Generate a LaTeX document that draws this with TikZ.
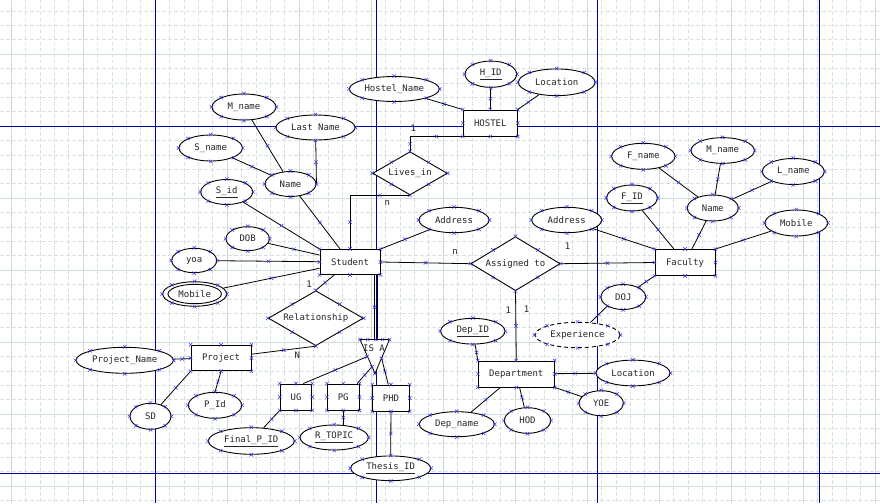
\documentclass[tikz,border=0pt]{standalone}
\usepackage{fontspec}
\setmainfont{DejaVu Sans Mono}
\usetikzlibrary{shapes.geometric,shapes.misc,calc}

\definecolor{gridminor}{RGB}{214,226,226}
\definecolor{gridmajor}{RGB}{204,218,218}
\definecolor{pagebrk}{RGB}{0,0,150}
\definecolor{cpblue}{RGB}{45,45,230}

\tikzset{
  ent/.style={draw, fill=white, rectangle, inner sep=0pt, line width=0.9pt},
  attr/.style={draw, fill=white, ellipse, inner sep=0pt, line width=0.9pt},
  relbox/.style={draw, fill=white, diamond, inner sep=0pt, line width=0.9pt},
  derived/.style={attr, dash pattern=on 4pt off 3pt},
  conn/.style={line width=0.8pt},
  cpt/.style={cross out, draw=cpblue, line width=0.45pt, minimum size=3pt, inner sep=0pt},
  txt/.style={inner sep=0pt},
  card/.style={inner sep=0pt},
  gmin/.style={gridminor, line width=0.55pt, dash pattern=on 3.5pt off 2.5pt},
  gmaj/.style={gridmajor, line width=0.7pt},
  pbrk/.style={pagebrk, line width=1pt}
}

% blue connection points on the eight compass anchors of a shape
\newcommand\cpmarks[1]{%
  \foreach \a in {north,north east,east,south east,south,south west,west,north west}
    {\node[cpt] at (#1.\a) {};}}

\begin{document}
\begin{tikzpicture}[x=1pt,y=-1pt,
  every node/.style={font=\fontsize{9}{10}\selectfont, text=black!85}]
\useasboundingbox (0,0) rectangle (880,503);
\fill[white] (0,0) rectangle (880,503);

% ---- canvas grid ----
\foreach \k in {0,...,60}{%
  \pgfmathsetmacro\xx{11+14.4*\k}%
  \pgfmathtruncatemacro\m{mod(\k,5)}%
  \ifnum\m=0 \draw[gmaj] (\xx,0) -- (\xx,503);
  \else \draw[gmin] (\xx,0) -- (\xx,503); \fi}
\foreach \k in {-3,...,31}{%
  \pgfmathsetmacro\yy{54+14.4*\k}%
  \pgfmathtruncatemacro\m{mod(\k+5,5)}%
  \ifnum\m=0 \draw[gmaj] (0,\yy) -- (880,\yy);
  \else \draw[gmin] (0,\yy) -- (880,\yy); \fi}

% ---- page breaks ----
\foreach \xx in {155,376.5,597.5,819} \draw[pbrk] (\xx,0) -- (\xx,503);
\foreach \yy in {126.5,473.3} \draw[pbrk] (0,\yy) -- (880,\yy);

% ---- entities ----
\node[ent, minimum width=54pt, minimum height=26pt] (hostel) at (490.3,123) {HOSTEL};
\node[ent, minimum width=60pt, minimum height=25pt] (student) at (350,262) {Student};
\node[ent, minimum width=60pt, minimum height=26pt] (faculty) at (685,262.5) {Faculty};
\node[ent, minimum width=76pt, minimum height=26pt] (dept) at (516.3,374) {Department};
\node[ent, minimum width=60pt, minimum height=25.7pt] (project) at (221,358) {Project};
\node[ent, minimum width=31.7pt, minimum height=26pt] (ug) at (296,397) {UG};
\node[ent, minimum width=31.7pt, minimum height=26pt] (pg) at (343.2,397) {PG};
\node[ent, minimum width=36.7pt, minimum height=26pt] (phd) at (391,398) {PHD};

% ---- relationships ----
\node[relbox, minimum width=74.6pt, minimum height=43.3pt] (lives) at (410,173.3) {};
\node[txt] (lives-t) at (lives) {Lives\_in};
\node[relbox, minimum width=89.3pt, minimum height=54pt] (assign) at (515.5,263.7) {};
\node[txt] (assign-t) at (assign) {Assigned to};
\node[relbox, minimum width=95pt, minimum height=55pt] (rel) at (315.8,318.2) {};
\node[txt] (rel-t) at (rel) {Relationship};

% ---- ISA triangle ----
\coordinate (isatl) at (360,339.5);
\coordinate (isatr) at (389.5,339.5);
\coordinate (isab) at (375,373.5);
\coordinate (isatop) at (375.75,339.5);
\coordinate (isal) at (367,356.7);
\coordinate (isam) at (372,366.7);
\coordinate (isar) at (381.6,358.3);
\draw[conn, fill=white] (isatl) -- (isatr) -- (isab) -- cycle;
\node[txt] (isa-t) at (374,348.3) {IS A};

% ---- attributes ----
\node[attr, minimum width=64pt, minimum height=26pt] (mname1) at (244,107) {M\_name};
\node[attr, minimum width=79pt, minimum height=25pt] (lastname) at (315.5,127.5) {Last Name};
\node[attr, minimum width=63.4pt, minimum height=26pt] (sname) at (210.7,148) {S\_name};
\node[attr, minimum width=51pt, minimum height=25pt] (name1) at (290.5,184) {Name};
\node[attr, minimum width=52pt, minimum height=25pt] (sid) at (226.7,192) {\underline{S\_id}};
\node[attr, minimum width=43.4pt, minimum height=24pt] (dob) at (247.7,238.7) {DOB};
\node[attr, minimum width=45pt, minimum height=24.4pt] (yoa) at (194.2,260.5) {yoa};
\node[attr, minimum width=64pt, minimum height=24.5pt] (mobile1) at (194.7,294) {};
\draw[line width=0.9pt] (mobile1.center) ellipse [x radius=26.7pt, y radius=9.7pt];
\node[txt] (mobile1-t) at (mobile1) {Mobile};
\node[attr, minimum width=90pt, minimum height=25pt] (hostelname) at (394.3,89) {Hostel\_Name};
\node[attr, minimum width=51.7pt, minimum height=26.3pt] (hid) at (490.8,74.2) {\underline{H\_ID}};
\node[attr, minimum width=76.7pt, minimum height=26.7pt] (hloc) at (556.7,82.3) {Location};
\node[attr, minimum width=70pt, minimum height=25.4pt] (addr1) at (454,220) {Address};
\node[attr, minimum width=70pt, minimum height=25.4pt] (addr2) at (566.7,220) {Address};
\node[attr, minimum width=63.4pt, minimum height=26pt] (fname) at (643.3,156.3) {F\_name};
\node[attr, minimum width=63.4pt, minimum height=25.7pt] (mname2) at (722.7,150.5) {M\_name};
\node[attr, minimum width=62pt, minimum height=26pt] (lname) at (793.3,171.5) {L\_name};
\node[attr, minimum width=51pt, minimum height=26pt] (name2) at (712.8,208) {Name};
\node[attr, minimum width=50.7pt, minimum height=26pt] (fid) at (632,198) {\underline{F\_ID}};
\node[attr, minimum width=62.7pt, minimum height=26pt] (mobile2) at (796.3,223) {Mobile};
\node[attr, minimum width=44.7pt, minimum height=25pt] (doj) at (623.3,297) {DOJ};
\node[derived, minimum width=85pt, minimum height=25.4pt] (exp) at (577.5,335) {Experience};
\node[attr, minimum width=64.3pt, minimum height=25.7pt] (depid) at (472.8,331.2) {\underline{Dep\_ID}};
\node[attr, minimum width=74pt, minimum height=25.7pt] (dloc) at (633,373) {Location};
\node[attr, minimum width=44.3pt, minimum height=25pt] (yoe) at (601.2,403.2) {YOE};
\node[attr, minimum width=46.4pt, minimum height=25.6pt] (hod) at (527.5,420.5) {HOD};
\node[attr, minimum width=75pt, minimum height=25pt] (depname) at (456.8,424.2) {Dep\_name};
\node[attr, minimum width=80pt, minimum height=24.7pt] (thesis) at (390.7,468.3) {\underline{Thesis\_ID}};
\node[attr, minimum width=68.3pt, minimum height=25pt] (rtopic) at (334.2,437.5) {\underline{R\_TOPIC}};
\node[attr, minimum width=86pt, minimum height=26.6pt] (finalpid) at (251.3,441) {\underline{Final\_P\_ID}};
\node[attr, minimum width=53.4pt, minimum height=26pt] (pid) at (215,405.3) {P\_Id};
\node[attr, minimum width=41pt, minimum height=26pt] (sd) at (150.5,416.3) {SD};
\node[attr, minimum width=97.4pt, minimum height=26pt] (projname) at (124.7,360.3) {Project\_Name};

% ---- connectors: student side ----
\draw[conn] (mname1) -- node[cpt]{} (name1);
\draw[conn] (lastname) -- node[cpt]{} (name1.east);
\draw[conn] (sname) -- node[cpt]{} (name1);
\draw[conn] (name1) -- node[cpt]{} (student);
\draw[conn] (sid) -- node[cpt]{} (student.north west);
\draw[conn] (dob) -- node[cpt]{} (student);
\draw[conn] (yoa) -- node[cpt]{} (student);
\draw[conn] (mobile1) -- node[cpt]{} (student);
\draw[conn] (student.north east) -- node[cpt]{} (addr1);
\draw[conn] (student) -- node[cpt]{} (rel.north);
\draw[conn] (project) -- node[cpt]{} (rel.south);
\draw[conn] (student.north) |- node[cpt,pos=.25]{} node[cpt,pos=.75]{} (lives.south);
\draw[conn] (lives.north) |- node[cpt,pos=.25]{} node[cpt,pos=.75]{} (hostel.south west);
\draw[conn] (student.east) -- node[cpt]{} (assign.west);

% total participation in the specialisation
\draw[conn] ($(student.south -| isatop)+(-1.3,0)$) -- node[cpt]{} ($(isatop)+(-1.3,0)$);
\draw[conn] ($(student.south -| isatop)+(1.3,0)$) -- ($(isatop)+(1.3,0)$);
\draw[conn] ($(ug.north)+(7.3,0)$) -- node[cpt]{} (isal);
\draw[conn] ($(pg.north east)+(-2.3,0)$) -- node[cpt]{} (isam);
\draw[conn] ($(phd.north)+(-2.7,0)$) -- node[cpt]{} (isar);

% ---- connectors: hostel ----
\draw[conn] (hostel.north west) -- node[cpt]{} (hostelname);
\draw[conn] (hostel) -- node[cpt]{} (hid);
\draw[conn] (hostel.north east) -- node[cpt]{} (hloc);

% ---- connectors: faculty ----
\draw[conn] (assign.east) -- node[cpt]{} (faculty.west);
\draw[conn] (faculty.north west) -- node[cpt]{} (addr2);
\draw[conn] (fid) -- node[cpt]{} (faculty);
\draw[conn] (name2) -- node[cpt]{} (faculty);
\draw[conn] (fname) -- node[cpt]{} (name2);
\draw[conn] (mname2) -- node[cpt]{} (name2);
\draw[conn] (lname) -- node[cpt]{} (name2);
\draw[conn] (faculty.north east) -- node[cpt]{} (mobile2);
\draw[conn] (faculty.south west) -- node[cpt]{} (doj);
\draw[conn] (doj.south west) -- node[cpt]{} (exp);

% ---- connectors: department ----
\draw[conn] (assign.south) -- node[cpt]{} (dept.north);
\draw[conn] (depid) -- node[cpt]{} (dept.north west);
\draw[conn] (dept) -- node[cpt]{} (dloc);
\draw[conn] (dept.south east) -- node[cpt]{} (yoe);
\draw[conn] (dept) -- node[cpt]{} (hod);
\draw[conn] (dept) -- node[cpt]{} (depname);

% ---- connectors: project and subclasses ----
\draw[conn] (projname) -- node[cpt]{} (project);
\draw[conn] (project.south west) -- node[cpt]{} (sd);
\draw[conn] (project.south) -- node[cpt]{} (pid.north);
\draw[conn] (ug.south west) -- node[cpt]{} (finalpid);
\draw[conn] (pg.south) -- node[cpt]{} (pg.south |- rtopic.north);
\draw[conn] (phd) -- node[cpt]{} (thesis);

% ---- cardinalities ----
\node[card] (c1) at (413.3,128.5) {1};
\node[card] (c2) at (387.3,203.3) {n};
\node[card] (c3) at (455,252) {n};
\node[card] (c4) at (567.7,246.7) {1};
\node[card] (c5) at (508.3,310.7) {1};
\node[card] (c6) at (526.7,309.3) {1};
\node[card] (c7) at (309,284) {1};
\node[card] (c8) at (297.3,355.5) {N};

% ---- connection points ----
\foreach \n in {hostel,student,faculty,dept,project,ug,pg,phd,
  lives,assign,rel,
  mname1,lastname,sname,name1,sid,dob,yoa,mobile1,hostelname,hid,hloc,
  addr1,addr2,fname,mname2,lname,name2,fid,mobile2,doj,exp,depid,dloc,
  yoe,hod,depname,thesis,rtopic,finalpid,pid,sd,projname}
  {\cpmarks{\n}}
\foreach \p in {isatl,isatr,isab,isatop,isal,isam,isar}
  {\node[cpt] at (\p) {};}
\node[cpt] at ($(isatl)!0.5!(isatop)$) {};
\node[cpt] at ($(isatop)!0.5!(isatr)$) {};
\end{tikzpicture}
\end{document}
